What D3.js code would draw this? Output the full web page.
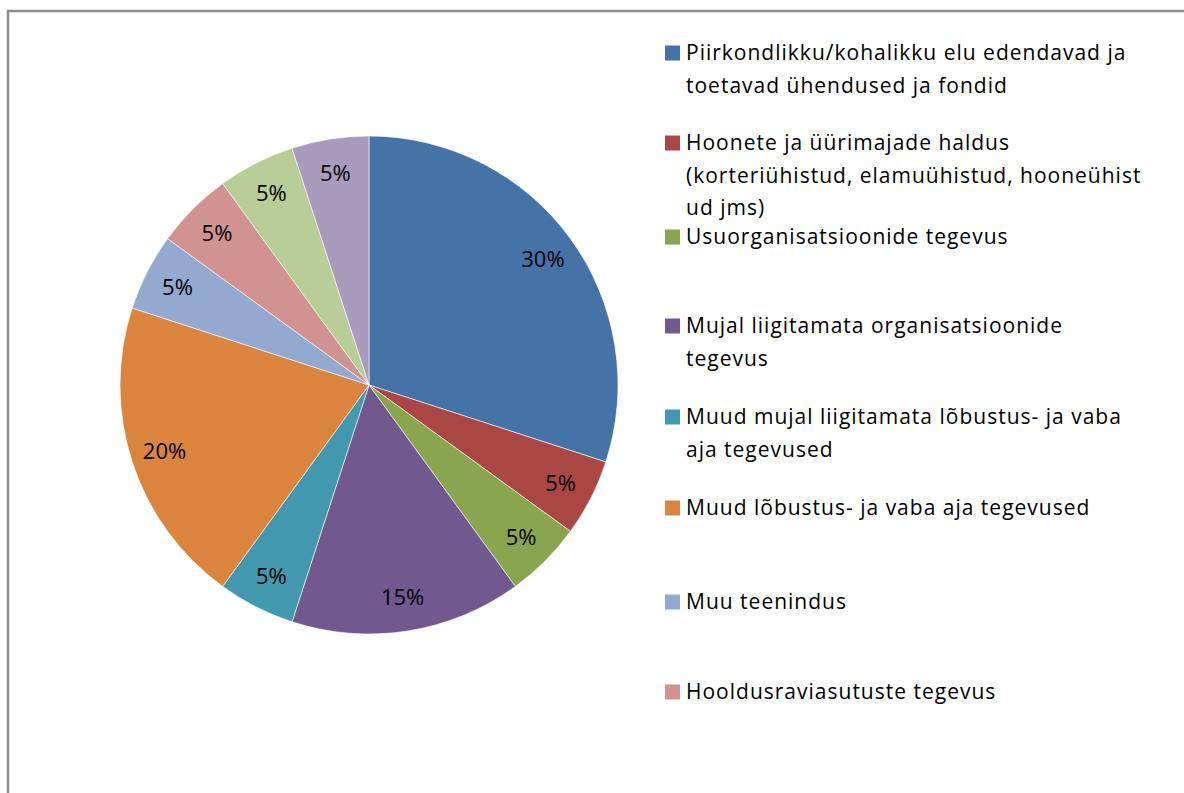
<!DOCTYPE html>
<html><head><meta charset="utf-8">
<script src="https://cdn.jsdelivr.net/npm/d3@7"></script>
<style>html,body{margin:0;padding:0;background:#fff;}svg{display:block;}</style>
</head><body>
<svg id="c" width="1184" height="793"></svg>
<script>
const categories = [
  "Piirkondlikku/kohalikku elu edendavad ja toetavad ühendused ja fondid",
  "Hoonete ja üürimajade haldus (korteriühistud, elamuühistud, hooneühistud jms)",
  "Usuorganisatsioonide tegevus",
  "Mujal liigitamata organisatsioonide tegevus",
  "Muud mujal liigitamata lõbustus- ja vaba aja tegevused",
  "Muud lõbustus- ja vaba aja tegevused",
  "Muu teenindus",
  "Hooldusraviasutuste tegevus",
  "Muu (9)",
  "Muu (10)"
];
const values = [30, 5, 5, 15, 5, 20, 5, 5, 5, 5];
const legendLines = [
  ["Piirkondlikku/kohalikku elu edendavad ja", "toetavad ühendused ja fondid"],
  ["Hoonete ja üürimajade haldus", "(korteriühistud, elamuühistud, hooneühist", "ud jms)"],
  ["Usuorganisatsioonide tegevus"],
  ["Mujal liigitamata organisatsioonide", "tegevus"],
  ["Muud mujal liigitamata lõbustus- ja vaba", "aja tegevused"],
  ["Muud lõbustus- ja vaba aja tegevused"],
  ["Muu teenindus"],
  ["Hooldusraviasutuste tegevus"]
];
const colors = ["#4572A7","#AA4643","#89A54E","#71588F","#4198AF","#DB843D","#93A9CF","#D19392","#B9CD96","#A99BBD"];

const svg = d3.select("#c");
const font = "'Open Sans', Lato, sans-serif";

// frame
svg.append("path").attr("d","M8,793 V11 H1184").attr("fill","none").attr("stroke","#8c8c8c").attr("stroke-width",2.5);

const cx = 369, cy = 385, R = 249, rLab = 215;
const pie = d3.pie().sort(null).value(d => d)(values);
const arc = d3.arc().innerRadius(0).outerRadius(R);
const labArc = d3.arc().innerRadius(rLab).outerRadius(rLab);
const total = d3.sum(values);
const g = svg.append("g").attr("transform",`translate(${cx},${cy})`);
g.selectAll("path.s").data(pie).enter().append("path").attr("class","s")
  .attr("d",arc).attr("fill",(d,i)=>colors[i]).attr("stroke","#ffffff").attr("stroke-width",0.6);
g.selectAll("text.l").data(pie).enter().append("text").attr("class","l")
  .attr("transform",d=>`translate(${labArc.centroid(d)})`)
  .attr("text-anchor","middle").attr("dy","0.36em")
  .attr("font-family",font).attr("font-size",22).attr("fill","#000")
  .text(d=>Math.round(d.value/total*100)+"%");

// legend
const legY = [53, 143, 237, 326, 417, 508, 602, 692];
const lg = svg.append("g");
legendLines.forEach((lines,i)=>{
  lg.append("rect").attr("x",665).attr("y",legY[i]-7.5).attr("width",15).attr("height",15).attr("fill",colors[i]);
  const t = lg.append("text").attr("font-family",font).attr("font-size",21).attr("letter-spacing",1).attr("fill","#000");
  lines.forEach((ln,j)=>{
    t.append("tspan").attr("x",686).attr("y",legY[i]+j*32.5).attr("dy","0.35em").text(ln);
  });
});
</script>
</body></html>
